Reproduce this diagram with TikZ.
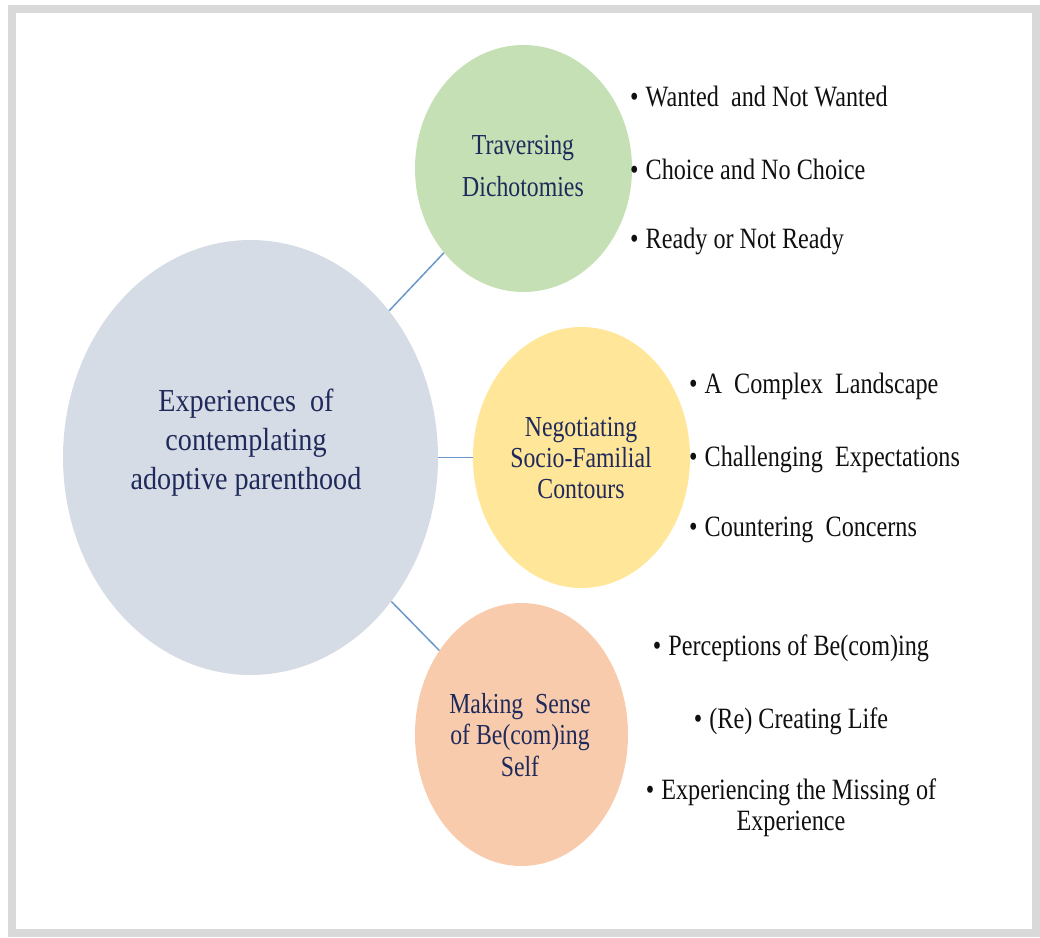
\documentclass[tikz,border=0pt]{standalone}
\usepackage{fontspec}
\setmainfont{Liberation Serif}
\newfontfamily\tnr[FakeStretch=0.82]{Liberation Serif}
\newfontfamily\tnrmain[FakeStretch=0.88]{Liberation Serif}
\usetikzlibrary{shapes.geometric}
\definecolor{framec}{HTML}{D9D9D9}
\definecolor{mainc}{HTML}{D6DCE5}
\definecolor{greenc}{HTML}{C5E0B4}
\definecolor{yellowc}{HTML}{FFE699}
\definecolor{orangec}{HTML}{F8CBAD}
\definecolor{navyc}{HTML}{1F2A5A}
\definecolor{linkc}{HTML}{6A98C8}
\definecolor{inkc}{HTML}{101010}
\begin{document}
\begin{tikzpicture}[x=1pt,y=-1pt,
  bubble/.style={ellipse, inner sep=0pt, draw=none},
  ctext/.style={align=center, text=navyc, inner sep=0pt},
  item/.style={anchor=west, text=inkc, inner sep=0pt, font=\tnr\fontsize{29.5}{31}\selectfont},
  citem/.style={align=center, text=inkc, inner sep=0pt, font=\tnr\fontsize{29.5}{31}\selectfont},
  link/.style={draw=linkc, line width=1.5pt}]
\useasboundingbox (0,0) rectangle (1040,937);
\draw[framec, line width=8pt] (12,9) rectangle (1036,933);

% bubbles
\node[bubble, fill=mainc, minimum width=375pt, minimum height=435pt] (main) at (250.5,457.5) {};
\node[bubble, fill=greenc, minimum width=217pt, minimum height=247pt] (trav) at (523.5,168.5) {};
\node[bubble, fill=yellowc, minimum width=217pt, minimum height=261pt] (nego) at (581.5,457.5) {};
\node[bubble, fill=orangec, minimum width=213pt, minimum height=263pt] (make) at (521.5,734.5) {};

% connectors
\draw[link] (main) -- (trav);
\draw[link] (main) -- (nego);
\draw[link] (main) -- (make);

% bubble texts
\node[ctext, font=\tnrmain\fontsize{32}{39}\selectfont] (maint) at (246,443) {Experiences\ \ of\\contemplating\\adoptive parenthood};
\node[ctext, font=\tnr\fontsize{29}{42}\selectfont] (travt) at (523,166) {Traversing\\Dichotomies};
\node[ctext, font=\tnr\fontsize{29}{31}\selectfont] (negot) at (581,458) {Negotiating\\Socio-Familial\\Contours};
\node[ctext, font=\tnr\fontsize{29}{31.5}\selectfont] (maket) at (520,735) {Making\ \ Sense\\of Be(com)ing\\Self};

% items
\node[item] (t1) at (630,96) {•\hspace{7pt}Wanted\ \ and Not Wanted};
\node[item] (t2) at (630,169) {•\hspace{7pt}Choice and No Choice};
\node[item] (t3) at (630,241) {•\hspace{7pt}Ready or Not Ready};

\node[item] (n1) at (689,386) {•\hspace{7pt}A\ \ Complex\ \ Landscape};
\node[item] (n2) at (689,459) {•\hspace{7pt}Challenging\ \ Expectations};
\node[item] (n3) at (689,530) {•\hspace{7pt}Countering\ \ Concerns};

\node[citem] (m1) at (791,648) {•\hspace{7pt}Perceptions of Be(com)ing};
\node[citem] (m2) at (791,721) {•\hspace{7pt}(Re) Creating Life};
\node[citem] (m3) at (791,808) {•\hspace{7pt}Experiencing\ the Missing of\\Experience};
\end{tikzpicture}
\end{document}
